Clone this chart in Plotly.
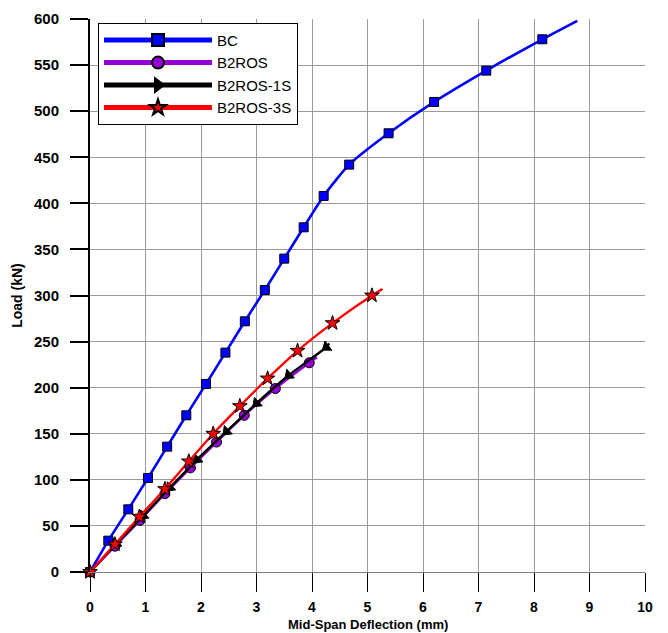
import plotly.graph_objects as go

# ---- data ----
bc_x = [0, 0.33, 0.69, 1.045, 1.39, 1.735, 2.09, 2.44, 2.79, 3.15, 3.50, 3.85, 4.21, 4.67, 5.38, 6.20, 7.14, 8.15, 8.78]
bc_y = [0, 34, 68, 102, 136, 170, 204, 238, 272, 306, 340, 374, 408, 442, 476, 510, 544, 578, 598]

b2ros_x = [0, 0.45, 0.90, 1.35, 1.81, 2.28, 2.78, 3.34, 3.95, 4.09]
b2ros_y = [0, 28, 56, 85, 113, 141, 170, 199, 227, 233]

b2ros1s_x = [0, 0.47, 0.96, 1.44, 1.93, 2.46, 3.00, 3.58, 4.26, 4.31]
b2ros1s_y = [0, 30.5, 61, 91.5, 122, 152.5, 183, 213.5, 244, 248]

b2ros3s_x = [0, 0.45, 0.89, 1.35, 1.78, 2.22, 2.70, 3.20, 3.74, 4.37, 5.08, 5.27]
b2ros3s_y = [0, 30, 60, 90, 120, 150, 180, 210, 240, 270, 300, 307]

x_ticks = [0, 1, 2, 3, 4, 5, 6, 7, 8, 9, 10]
y_ticks = [0, 50, 100, 150, 200, 250, 300, 350, 400, 450, 500, 550, 600]


def msizes(n, s):
    # last point only continues the line, no marker
    return [s] * (n - 1) + [0]


def mlines(n):
    return [1] * (n - 1) + [0]


fig = go.Figure()

fig.add_trace(go.Scatter(
    x=bc_x, y=bc_y, name="BC", mode="lines+markers",
    line=dict(color="#0000FF", width=2.6, shape="spline", smoothing=0.6),
    marker=dict(symbol="square", size=msizes(len(bc_x), 9), color="#0000FF", opacity=1,
                line=dict(color="black", width=mlines(len(bc_x)))),
    cliponaxis=False,
))
fig.add_trace(go.Scatter(
    x=b2ros_x, y=b2ros_y, name="B2ROS", mode="lines+markers",
    line=dict(color="#9400D3", width=2.4, shape="spline", smoothing=0.6),
    marker=dict(symbol="circle", size=msizes(len(b2ros_x), 10), color="#9400D3", opacity=1,
                line=dict(color="black", width=mlines(len(b2ros_x)))),
    cliponaxis=False,
))
fig.add_trace(go.Scatter(
    x=b2ros1s_x, y=b2ros1s_y, name="B2ROS-1S", mode="lines+markers",
    line=dict(color="black", width=2.4, shape="spline", smoothing=0.6),
    marker=dict(symbol="triangle-up", size=msizes(len(b2ros1s_x), 10), color="black", opacity=1,
                angleref="previous", angle=180,
                line=dict(color="black", width=mlines(len(b2ros1s_x)))),
    cliponaxis=False,
))
fig.add_trace(go.Scatter(
    x=b2ros3s_x, y=b2ros3s_y, name="B2ROS-3S", mode="lines+markers",
    line=dict(color="#FF0000", width=2.4, shape="spline", smoothing=0.6),
    marker=dict(symbol="star", size=msizes(len(b2ros3s_x), 11), color="#FF0000", opacity=1,
                line=dict(color="black", width=mlines(len(b2ros3s_x)))),
    cliponaxis=False,
))

FONT = "Arial, Liberation Sans, sans-serif"
tickfont = dict(family=FONT, size=15, color="black", weight="bold")
titlefont = dict(family=FONT, size=14, color="black")

fig.update_layout(
    width=668, height=633,
    margin=dict(l=90, r=23, t=19, b=61),
    paper_bgcolor="white", plot_bgcolor="white",
    font=dict(family=FONT, color="black"),
    showlegend=True,
    legend=dict(
        x=0.0144, y=0.993, xanchor="left", yanchor="top",
        bgcolor="white", bordercolor="black", borderwidth=1,
        font=dict(family=FONT, size=15, color="black"),
        itemsizing="constant", itemwidth=108, tracegroupgap=0,
    ),
    xaxis=dict(
        range=[0, 10], tickvals=x_ticks, ticktext=[str(v) for v in x_ticks],
        showgrid=True, gridcolor="#9a9a9a", gridwidth=1, zeroline=False,
        showline=True, linecolor="#808080", linewidth=1,
        ticks="outside", ticklen=19, tickwidth=1, tickcolor="black",
        ticklabelstandoff=3, automargin=False,
        tickfont=dict(tickfont, size=14),
    ),
    yaxis=dict(
        range=[0, 600], tickvals=y_ticks, ticktext=[str(v) for v in y_ticks],
        showgrid=True, gridcolor="#9a9a9a", gridwidth=1, zeroline=False,
        showline=True, linecolor="black", linewidth=2,
        ticks="outside", ticklen=18, tickwidth=2, tickcolor="black",
        ticklabelstandoff=8, automargin=False,
        tickfont=tickfont,
        title=dict(text="<b>Load (kN)</b>", font=titlefont, standoff=8),
    ),
    annotations=[dict(
        text="<b>Mid-Span Deflection (mm)</b>", font=dict(titlefont, size=13),
        xref="paper", yref="paper", x=0.5, y=-0.095,
        xanchor="center", yanchor="middle", showarrow=False,
    )],
)

fig.write_html("out.html")
